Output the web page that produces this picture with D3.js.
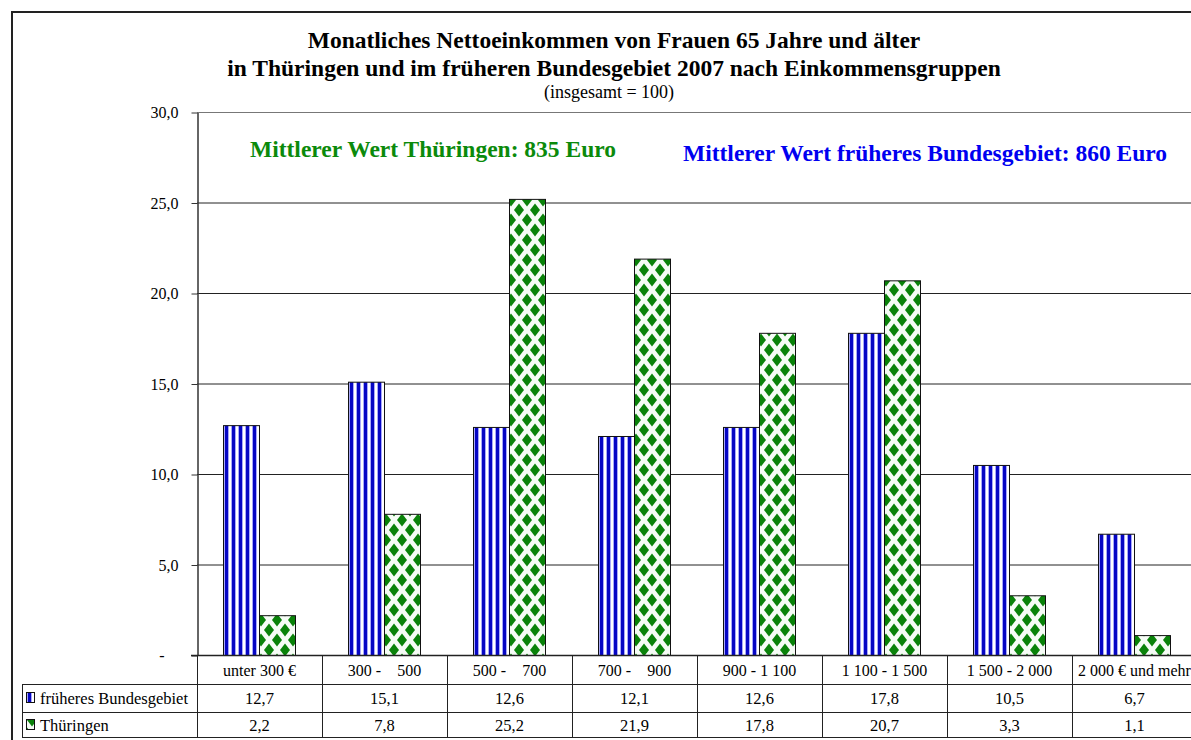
<!DOCTYPE html>
<html>
<head>
<meta charset="utf-8">
<script src="https://cdn.jsdelivr.net/npm/d3@7"></script>
<style>
  body { margin: 0; background: #fff; }
  svg, svg text { font-family: "Liberation Serif", "Times New Roman", Tinos, "DejaVu Serif", serif; }
  text { white-space: pre; }
</style>
</head>
<body>
<svg id="chart" width="1191" height="740"></svg>
<script>
const categories = ["unter 300 €", "300 -    500", "500 -    700", "700 -    900",
  "900 - 1 100", "1 100 - 1 500", "1 500 - 2 000", "2 000 € und mehr"];
const seriesNames = ["früheres Bundesgebiet", "Thüringen"];
const bundesgebiet = [12.7, 15.1, 12.6, 12.1, 12.6, 17.8, 10.5, 6.7];
const thueringen = [2.2, 7.8, 25.2, 21.9, 17.8, 20.7, 3.3, 1.1];
const yTicks = [0, 5, 10, 15, 20, 25, 30];

const titleLines = ["Monatliches Nettoeinkommen von Frauen 65 Jahre und älter",
  "in Thüringen und im früheren Bundesgebiet 2007 nach Einkommensgruppen"];
const subtitle = "(insgesamt = 100)";

const series = [bundesgebiet, thueringen];
const locale = d3.formatLocale({decimal: ",", thousands: ".", grouping: [3], currency: ["", " €"]});
const fmt = locale.format(".1f");

const svg = d3.select('#chart');
const defs = svg.append('defs');

// blue vertical stripes
const pb = defs.append('pattern').attr('id', 'stripes')
    .attr('patternUnits', 'userSpaceOnUse').attr('width', 7).attr('height', 10);
pb.append('rect').attr('width', 7).attr('height', 10).attr('fill', '#ffffff');
pb.append('rect').attr('x', 0).attr('width', 3).attr('height', 10).attr('fill', '#0606c4');
pb.append('rect').attr('x', 3).attr('width', 1).attr('height', 10).attr('fill', '#a8a8f8');
pb.append('rect').attr('x', 6).attr('width', 1).attr('height', 10).attr('fill', '#a8a8f8');

// green diamonds
const pg = defs.append('pattern').attr('id', 'diamonds')
    .attr('patternUnits', 'userSpaceOnUse').attr('width', 16).attr('height', 20);
pg.append('rect').attr('width', 16).attr('height', 20).attr('fill', '#f6fcf6');
const dia = (cx, cy) => `M${cx},${cy - 6.5}L${cx + 5},${cy}L${cx},${cy + 6.5}L${cx - 5},${cy}Z`;
[[0, 0], [16, 0], [0, 20], [16, 20], [8, 10]].forEach(([cx, cy]) =>
  pg.append('path').attr('d', dia(cx, cy)).attr('fill', '#0a820a'));

// outer frame
svg.append('path')
    .attr('d', 'M12,745V12H1200')
    .attr('fill', 'none').attr('stroke', '#222').attr('stroke-width', 2);

// titles
const title = svg.append('text')
    .attr('text-anchor', 'middle')
    .attr('font-weight', 'bold').attr('font-size', 23.5);
titleLines.forEach((t, i) => title.append('tspan').attr('x', 614).attr('y', 48 + i * 28).text(t));
svg.append('text').attr('x', 609).attr('y', 98).attr('text-anchor', 'middle')
    .attr('font-size', 18).text(subtitle);

const plotLeft = 197, plotRight = 1197, plotTop = 112, plotBottom = 655;

const x = d3.scaleBand().domain(categories).range([plotLeft, plotRight]);
const xs = d3.scaleBand().domain(seriesNames).range([26, 98]);
const y = d3.scaleLinear().domain([0, 30]).range([plotBottom, plotTop]);

// grid lines
svg.append('g').selectAll('line')
  .data(yTicks.filter(d => d > 0))
  .join('line')
    .attr('x1', plotLeft).attr('x2', plotRight)
    .attr('y1', d => y(d) + 0.5).attr('y2', d => y(d) + 0.5)
    .attr('stroke', d => d === 30 ? '#777' : '#222').attr('stroke-width', 1);

// y axis
const yAxis = svg.append('g').attr('transform', `translate(${plotLeft + 0.5},0.5)`)
  .call(d3.axisLeft(y).tickValues(yTicks).tickSize(6).tickSizeOuter(0)
    .tickFormat(d => d === 0 ? '-' : fmt(d)));
yAxis.attr('font-family', null).attr('font-size', null);
yAxis.select('.domain').attr('stroke', '#333').attr('stroke-width', 1.5);
yAxis.selectAll('.tick line').attr('stroke', '#333');
yAxis.selectAll('.tick text')
    .attr('x', -19).attr('font-size', 16).attr('fill', '#000');
yAxis.selectAll('.tick').filter(d => d === 0).select('text').attr('x', -33);

// bars
const groups = svg.append('g').selectAll('g')
  .data(categories)
  .join('g')
    .attr('transform', d => `translate(${x(d)},0)`);
groups.selectAll('rect')
  .data((c, i) => seriesNames.map((s, j) => ({s, v: series[j][i]})))
  .join('rect')
    .attr('x', d => xs(d.s) + 0.5)
    .attr('y', d => y(d.v) + 0.5)
    .attr('width', xs.bandwidth())
    .attr('height', d => y(0) - y(d.v))
    .attr('fill', d => d.s === seriesNames[0] ? 'url(#stripes)' : 'url(#diamonds)')
    .attr('stroke', '#111').attr('stroke-width', 1);

// annotations
svg.append('text').attr('x', 250).attr('y', 157)
    .attr('font-size', 23.5).attr('font-weight', 'bold').attr('fill', '#0b8a0b')
    .text('Mittlerer Wert Thüringen: 835 Euro');
svg.append('text').attr('x', 683).attr('y', 161)
    .attr('font-size', 23.5).attr('font-weight', 'bold').attr('fill', '#0000f0')
    .text('Mittlerer Wert früheres Bundesgebiet: 860 Euro');

// axis base line
svg.append('line').attr('x1', 191).attr('x2', plotRight)
    .attr('y1', plotBottom + 0.5).attr('y2', plotBottom + 0.5)
    .attr('stroke', '#222').attr('stroke-width', 1.5);

// data table
const rowTop = [655, 684, 712, 737];
const table = svg.append('g').attr('stroke', '#222').attr('stroke-width', 1);
[1, 2, 3].forEach(r => table.append('line')
    .attr('x1', 22).attr('x2', plotRight)
    .attr('y1', rowTop[r] + 0.5).attr('y2', rowTop[r] + 0.5));
table.append('line').attr('x1', 22.5).attr('x2', 22.5).attr('y1', rowTop[1]).attr('y2', rowTop[3] + 1);
table.selectAll('line.col')
  .data(categories)
  .join('line').attr('class', 'col')
    .attr('x1', d => x(d) + 0.5).attr('x2', d => x(d) + 0.5)
    .attr('y1', rowTop[0]).attr('y2', rowTop[3] + 1);

svg.append('g').selectAll('text')
  .data(categories)
  .join('text')
    .attr('x', d => x(d) + x.bandwidth() / 2)
    .attr('y', 676)
    .attr('text-anchor', 'middle').attr('font-size', 16)
    .text(d => d);

seriesNames.forEach((s, j) => {
  const yy = j === 0 ? 704 : 731;
  svg.append('rect')
      .attr('x', 26.5).attr('y', yy - 11.5).attr('width', 8).attr('height', 10)
      .attr('fill', j === 0 ? 'url(#stripes)' : 'url(#diamonds)')
      .attr('stroke', '#111');
  svg.append('text').attr('x', 40).attr('y', yy).attr('font-size', 16.5).text(s);
  svg.append('g').selectAll('text')
    .data(categories)
    .join('text')
      .attr('x', d => x(d) + x.bandwidth() / 2)
      .attr('y', yy)
      .attr('text-anchor', 'middle').attr('font-size', 16.5)
      .text((d, i) => fmt(series[j][i]));
});
</script>
</body>
</html>
